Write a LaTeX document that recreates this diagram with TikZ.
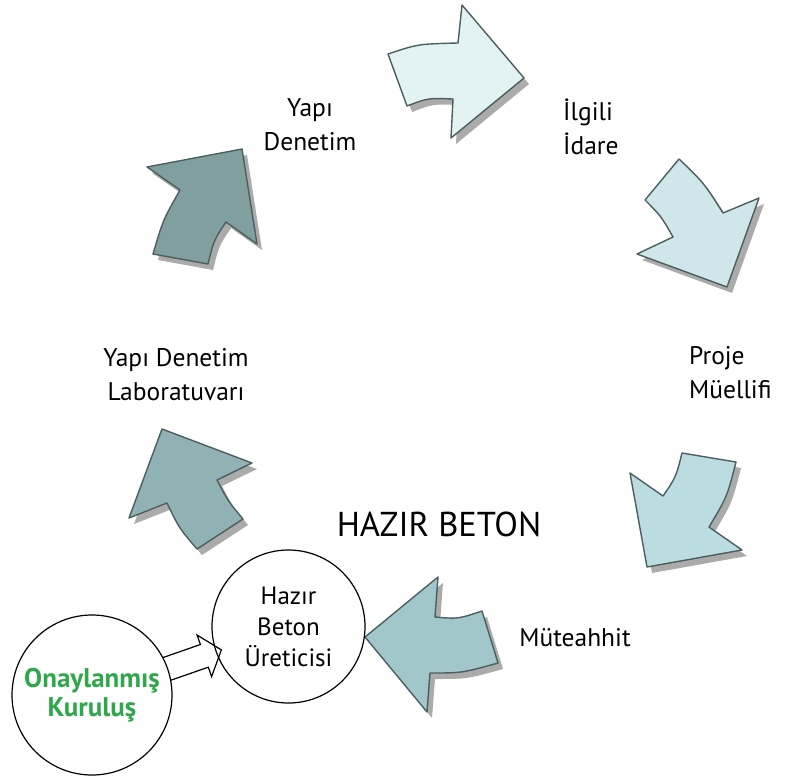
\documentclass[tikz,border=0pt]{standalone}
\usepackage{fontspec}
\setmainfont{PT Sans}
\usetikzlibrary{calc,shadows,backgrounds}
\definecolor{aone}{HTML}{E3F2F3}
\definecolor{atwo}{HTML}{CFE7EA}
\definecolor{athree}{HTML}{BBDCE0}
\definecolor{afour}{HTML}{A2C7CB}
\definecolor{afive}{HTML}{90B2B5}
\definecolor{asix}{HTML}{819F9F}
\definecolor{aline}{HTML}{4D5E5E}
\definecolor{okgreen}{HTML}{2EA84A}
\tikzset{
  bigarrow/.style={draw=aline, line width=1.4pt, line join=round, fill=#1,
    drop shadow={shadow xshift=5pt, shadow yshift=-6pt, fill=black!33, opacity=1}},
  lbl/.style={font=\fontsize{25.5}{34}\selectfont, align=center, inner sep=0pt},
  ring/.style={circle, draw=black, line width=1.2pt, inner sep=0pt, align=center}
}
\begin{document}
\begin{tikzpicture}[x=1pt,y=-1pt]
\useasboundingbox (0,0) rectangle (786,779);

% curved block arrows
\draw[bigarrow=aone] (388,54) .. controls (418,44) .. (458,43) -- (462,5) -- (524,78)
  -- (451,138) -- (453,99) .. controls (428,98) .. (407,106) -- cycle;
\draw[bigarrow=atwo] (679,159) .. controls (704,183) .. (723,213) -- (759,198) -- (727,287)
  -- (637,254) -- (673,237) .. controls (661,216) .. (645,200) -- cycle;
\draw[bigarrow=athree] (682,453) -- (736,462) .. controls (727,497) .. (709,527) -- (742,550)
  -- (647,567) -- (630,473) -- (663,496) .. controls (676,477) .. cycle;
\draw[bigarrow=afour] (365,637) -- (438,577) -- (435,617) .. controls (458,619) .. (482,611)
  -- (498,663) .. controls (462,673) .. (430,673) -- (427,712) -- cycle;
\draw[bigarrow=afive] (162,429) -- (252,463) -- (217,480) .. controls (228,501) .. (243,519)
  -- (197,549) .. controls (179,528) .. (167,503) -- (129,518) -- cycle;
\draw[bigarrow=asix] (242,149) -- (147,167) -- (180,190) .. controls (163,220) .. (153,254)
  -- (208,264) .. controls (214,240) .. (226,222) -- (257,244) -- cycle;

% labels
\node[lbl] (yd) at (310,125) {Yapı\\Denetim};
\node[lbl, align=left, anchor=west] (ii) at (563,127) {İlgili\\İdare};
\node[lbl, align=left, anchor=west] (pm) at (689,373) {Proje\\Müellifi};
\node[lbl] (ydl) at (176,375) {Yapı Denetim\\Laboratuvarı};
\node[lbl] (mt) at (575,638) {Müteahhit};
\node[font=\fontsize{34.5}{40}\selectfont, inner sep=0pt] (hb) at (439,524) {HAZIR BETON};

% circles
\node[ring, minimum size=153pt, font=\fontsize{25}{31}\selectfont] (hz) at (288.5,626.5) {Hazır\\Beton\\Üreticisi};
\node[ring, minimum size=160pt, font=\fontsize{27}{29}\selectfont\bfseries, text=okgreen] (on) at (92,695) {Onaylanmış\\Kuruluş};

% hollow connector arrow
\coordinate (at) at ($(on.center)!79.2pt!(hz.center)$);
\coordinate (am) at ($(on.center)!119pt!(hz.center)$);
\coordinate (ab) at ($(on.center)!137pt!(hz.center)$);
\begin{pgfonlayer}{background}
\fill[white] ($(at)!12pt!90:(ab)$) -- ($(am)!12pt!90:(ab)$) -- ($(am)!22pt!90:(ab)$) -- (ab)
  -- ($(am)!22pt!-90:(ab)$) -- ($(am)!12pt!-90:(ab)$) -- ($(at)!12pt!-90:(ab)$) -- cycle;
\draw[black, line width=1.2pt, line join=miter] ($(at)!12pt!90:(ab)$) -- ($(am)!12pt!90:(ab)$) -- ($(am)!22pt!90:(ab)$) -- (ab)
  -- ($(am)!22pt!-90:(ab)$) -- ($(am)!12pt!-90:(ab)$) -- ($(at)!12pt!-90:(ab)$);
\end{pgfonlayer}
\end{tikzpicture}
\end{document}
